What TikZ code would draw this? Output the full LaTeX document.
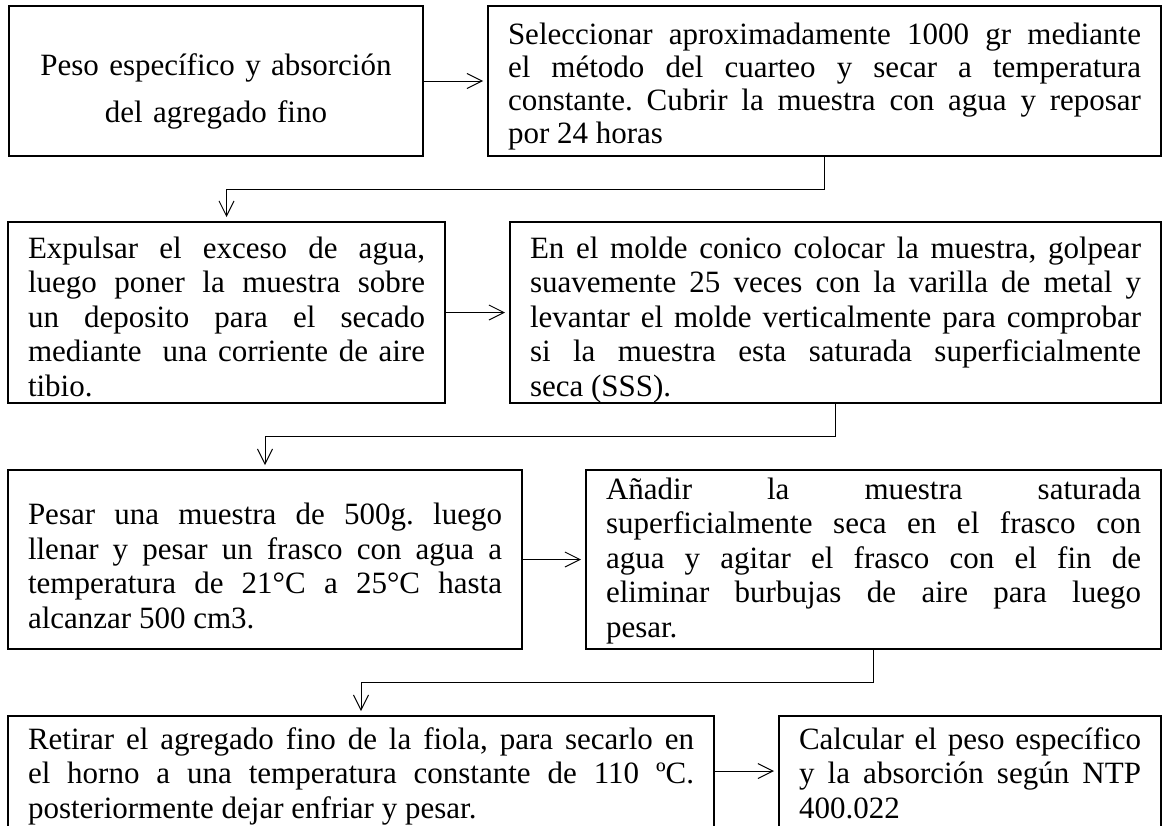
\documentclass[tikz,border=0pt]{standalone}
\usepackage{fontspec}
\setmainfont{Liberation Serif}
\usetikzlibrary{arrows.meta}
\hyphenpenalty=10000
\exhyphenpenalty=10000
\tolerance=10000
\frenchspacing
\newcommand\bxfont{\fontsize{31}{34.5}\selectfont\frenchspacing}
\newcommand\bxfonttight{\fontsize{31}{33}\selectfont\frenchspacing}
\newcommand\bxfonttitle{\fontsize{31}{47}\selectfont\frenchspacing}
\newcommand\toprule[1]{\rule{0pt}{#1}}
\newcommand\botrule[1]{\rule[-#1]{0pt}{0pt}}
\begin{document}
\begin{tikzpicture}[x=1pt,y=-1pt,
  box/.style={draw, line width=2.4pt, anchor=north west, outer sep=0pt,
    inner xsep=20pt, inner ysep=0pt, align=justify, font=\bxfont},
  arr/.style={line width=1pt, -{Straight Barb[length=15pt,width=15pt]}, shorten >=5pt}]
\useasboundingbox (0,0) rectangle (1164,825);
\clip (0,0) rectangle (1164,825);
\fill[white] (0,0) rectangle (1164,825);

\node[box, align=center, font=\bxfonttitle, text width=374pt, minimum height=150pt] (b1) at (9,6)
  {\toprule{42pt}Peso específico y absorción\\ del agregado fino};
\node[box, font=\bxfonttight, text width=633pt, minimum height=150pt] (b2) at (488,6)
  {\toprule{36pt}Seleccionar aproximadamente 1000 gr mediante\linebreak el método del cuarteo y secar a temperatura\linebreak constante. Cubrir la muestra con agua y reposar\linebreak por 24 horas\strut};

\node[box, text width=397pt, minimum height=181pt] (b3) at (8,222)
  {\toprule{36pt}Expulsar el exceso de agua,\linebreak luego poner la muestra sobre\linebreak un deposito para el secado\linebreak mediante\ \ una corriente de aire\linebreak tibio.\botrule{6.5pt}};
\node[box, text width=611pt, minimum height=181pt] (b4) at (510,222)
  {\toprule{36pt}En el molde conico colocar la muestra, golpear\linebreak suavemente 25 veces con la varilla de metal y\linebreak levantar el molde verticalmente para comprobar\linebreak si la muestra esta saturada superficialmente\linebreak seca (SSS).\botrule{6.5pt}};

\node[box, text width=474pt, minimum height=179pt] (b5) at (8,470)
  {\toprule{44pt}Pesar una muestra de 500g. luego\linebreak llenar y pesar un frasco con agua a\linebreak temperatura de 21°C a 25°C hasta\linebreak alcanzar 500 cm3.\strut};
\node[box, text width=535pt, minimum height=179pt] (b6) at (586,470)
  {\toprule{28pt}Añadir la muestra saturada\linebreak superficialmente seca en el frasco con\linebreak agua y agitar el frasco con el fin de\linebreak eliminar burbujas de aire para luego\linebreak pesar.\strut};

\node[box, text width=666pt, minimum height=122pt] (b7) at (8,716)
  {\strut Retirar el agregado fino de la fiola, para secarlo en\linebreak el horno a una temperatura constante de 110 ºC.\linebreak posteriormente dejar enfriar y pesar.\strut};
\node[box, text width=342pt, minimum height=122pt] (b8) at (779,716)
  {\strut Calcular el peso específico\linebreak y la absorción según NTP\linebreak 400.022\strut};

\draw[arr] (b1.east) -- (b2.west);
\draw[arr] (b2.south) -- ++(0,33) -| (b3.north);
\draw[arr] (b3.east) -- (b4.west);
\draw[arr] (b4.south) -- ++(0,33) -| (b5.north);
\draw[arr] (b5.east) -- (b6.west);
\draw[arr] (b6.south) -- ++(0,33) -| (b7.north);
\draw[arr] ([yshift=6pt]b7.east) -- ([yshift=6pt]b8.west);
\end{tikzpicture}
\end{document}
